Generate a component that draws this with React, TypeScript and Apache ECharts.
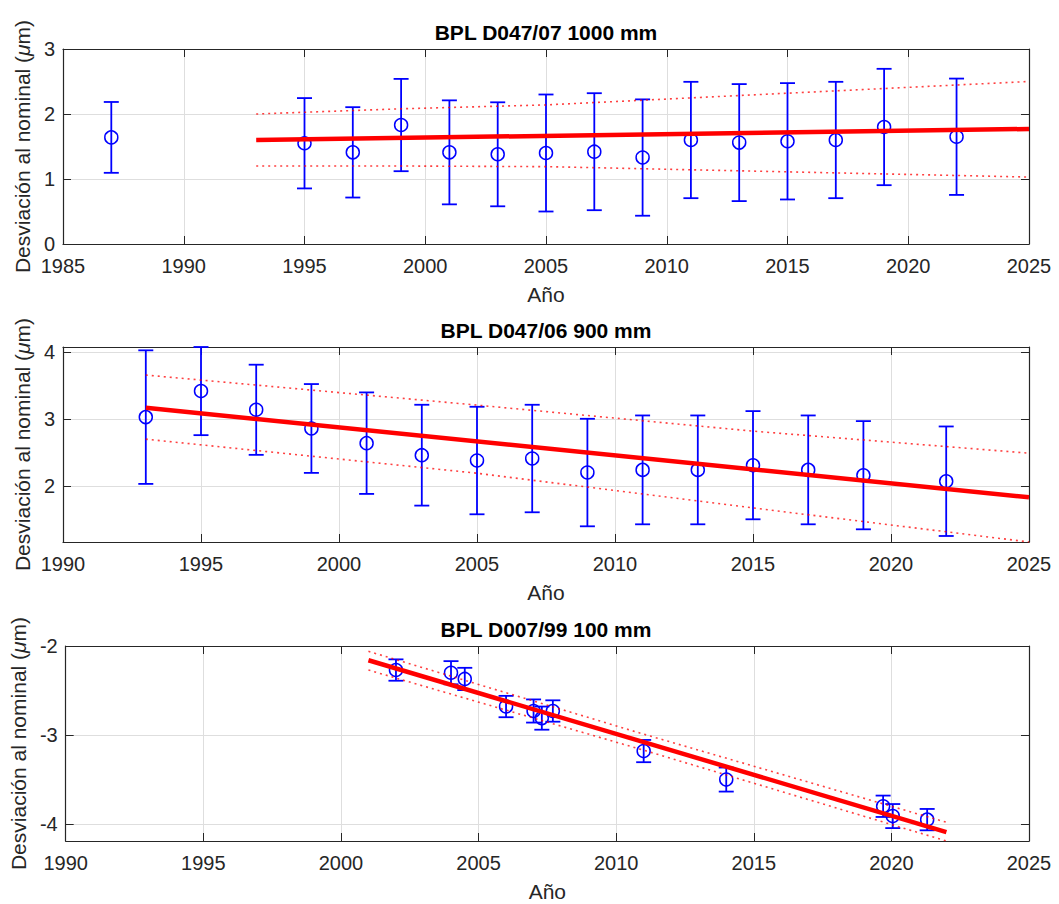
import React, { useEffect, useRef } from 'react';
import * as echarts from 'echarts';

// ---------- Panel 1: BPL D047/07 1000 mm ----------
const titles = ['BPL D047/07 1000 mm', 'BPL D047/06 900 mm', 'BPL D007/99 100 mm'];

const years1 = [1987, 1995, 1997, 1999, 2001, 2003, 2005, 2007, 2009, 2011, 2013, 2015, 2017, 2019, 2022];
const vals1 = [1.64, 1.55, 1.41, 1.83, 1.41, 1.38, 1.40, 1.42, 1.33, 1.60, 1.56, 1.58, 1.60, 1.80, 1.65];
const err1 = [0.545, 0.695, 0.695, 0.71, 0.8, 0.8, 0.9, 0.9, 0.895, 0.895, 0.9, 0.895, 0.895, 0.895, 0.895];
const fitX1 = [1993, 2025];
const fitY1 = [1.60, 1.77];
const bandX1 = [1993, 1999, 2005, 2015, 2025];
const upper1 = [2.0, 2.08, 2.14, 2.32, 2.5];
const lower1 = [1.2, 1.2, 1.19, 1.11, 1.03];

// ---------- Panel 2: BPL D047/06 900 mm ----------
const years2 = [1993, 1995, 1997, 1999, 2001, 2003, 2005, 2007, 2009, 2011, 2013, 2015, 2017, 2019, 2022];
const vals2 = [3.03, 3.42, 3.14, 2.86, 2.64, 2.46, 2.38, 2.41, 2.2, 2.24, 2.24, 2.31, 2.24, 2.16, 2.07];
const err2 = [1.0, 0.66, 0.675, 0.665, 0.76, 0.755, 0.805, 0.805, 0.805, 0.815, 0.815, 0.81, 0.815, 0.81, 0.82];
const fitX2 = [1993, 2025];
const fitY2 = [3.17, 1.83];
const bandX2 = [1993, 2005, 2015, 2025];
const upper2 = [3.66, 3.21, 2.82, 2.49];
const lower2 = [2.70, 2.19, 1.67, 1.16];

// ---------- Panel 3: BPL D007/99 100 mm ----------
const years3 = [2002, 2004, 2004.5, 2006, 2007, 2007.3, 2007.7, 2011, 2014, 2019.7, 2020.05, 2021.3];
const vals3 = [-2.27, -2.30, -2.37, -2.68, -2.73, -2.81, -2.73, -3.18, -3.50, -3.80, -3.91, -3.95];
const err3 = [0.12, 0.13, 0.125, 0.12, 0.13, 0.13, 0.12, 0.125, 0.135, 0.12, 0.135, 0.12];
const fitX3 = [2001, 2022];
const fitY3 = [-2.16, -4.09];
const bandX3 = [2001, 2011, 2022];
const upper3 = [-2.06, -2.99, -3.98];
const lower3 = [-2.27, -3.17, -4.19];

// axis ranges
const xMin = [1985, 1990, 1990];
const xMax = [2025, 2025, 2025];
const yMin = [0, 1.16, -4.19];
const yMax = [3, 4.08, -2];

const BLUE = '#0000ff';
const RED = '#ff0000';
const INK = '#262626';
const FONT = 'Liberation Sans';

const GRID_TOP = [49, 347, 646];
const GRID_H = 195;
const GRID_LEFT = 63;
const GRID_W = 966;

function zip(a: number[], b: number[]) {
  return a.map((v, i) => [v, b[i]]);
}

function errorSeries(x: number[], y: number[], e: number[], gi: number) {
  return {
    type: 'custom',
    xAxisIndex: gi * 2,
    yAxisIndex: gi * 2,
    z: 3,
    data: x.map((xx, i) => [xx, y[i], y[i] - e[i], y[i] + e[i]]),
    renderItem: (params: any, api: any) => {
      const x0 = api.value(0);
      const c = api.coord([x0, api.value(1)]);
      const t = api.coord([x0, api.value(3)]);
      const b = api.coord([x0, api.value(2)]);
      const cap = 7.5;
      const st = { stroke: BLUE, lineWidth: 1.8, fill: 'none' };
      return {
        type: 'group',
        children: [
          { type: 'line', shape: { x1: c[0], y1: t[1], x2: c[0], y2: b[1] }, style: st },
          { type: 'line', shape: { x1: c[0] - cap, y1: t[1], x2: c[0] + cap, y2: t[1] }, style: st },
          { type: 'line', shape: { x1: c[0] - cap, y1: b[1], x2: c[0] + cap, y2: b[1] }, style: st },
          { type: 'circle', shape: { cx: c[0], cy: c[1], r: 6.5 }, style: { stroke: BLUE, lineWidth: 1.5, fill: 'none' } },
        ],
      };
    },
  };
}

function lineSeries(x: number[], y: number[], gi: number, dotted: boolean) {
  return {
    type: 'line',
    xAxisIndex: gi * 2,
    yAxisIndex: gi * 2,
    data: zip(x, y),
    showSymbol: false,
    symbol: 'none',
    smooth: false,
    z: dotted ? 4 : 5,
    lineStyle: dotted
      ? { color: RED, width: 1.6, type: [2, 4], opacity: 0.75 }
      : { color: RED, width: 4.5 },
  };
}

export default function App() {
  const ref = useRef<HTMLDivElement>(null);

  useEffect(() => {
    if (!ref.current) return;
    const chart = echarts.init(ref.current, undefined, { renderer: 'svg' });

    const grids: any[] = [];
    const xAxes: any[] = [];
    const yAxes: any[] = [];
    const graphics: any[] = [];

    for (let gi = 0; gi < 3; gi++) {
      grids.push({ left: GRID_LEFT, top: GRID_TOP[gi], width: GRID_W, height: GRID_H, containLabel: false });
      const tickStyle = { show: true, inside: true, length: 8, lineStyle: { color: INK, width: 1 } };
      const lineStyle = { show: true, onZero: false, lineStyle: { color: INK, width: 1.2 } };
      // bottom x
      xAxes.push({
        type: 'value', gridIndex: gi, position: 'bottom', min: xMin[gi], max: xMax[gi], interval: 5,
        axisLine: lineStyle, axisTick: tickStyle,
        axisLabel: { color: INK, fontSize: 20, fontFamily: FONT, margin: 12, formatter: (v: number) => String(v) },
        splitLine: { show: true, lineStyle: { color: '#dedede', width: 1 } },
        name: 'Año', nameLocation: 'middle', nameGap: 40,
        nameTextStyle: { color: INK, fontSize: 21, fontFamily: FONT },
      });
      // top x (box)
      xAxes.push({
        type: 'value', gridIndex: gi, position: 'top', min: xMin[gi], max: xMax[gi], interval: 5,
        axisLine: lineStyle, axisTick: tickStyle, axisLabel: { show: false }, splitLine: { show: false },
      });
      // left y
      yAxes.push({
        type: 'value', gridIndex: gi, position: 'left', min: yMin[gi], max: yMax[gi],
        minInterval: 1, maxInterval: 1,
        axisLine: lineStyle, axisTick: tickStyle,
        axisLabel: {
          color: INK, fontSize: 20, fontFamily: FONT, margin: 8,
          showMinLabel: gi === 0, showMaxLabel: gi !== 1,
          formatter: (v: number) => (Math.abs(v - Math.round(v)) < 1e-9 ? String(Math.round(v)) : ''),
        },
        splitLine: { show: true, lineStyle: { color: '#dedede', width: 1 } },
        name: '{n|Desviación al nominal (}{i|μ}{n|m)}',
        nameLocation: 'middle', nameGap: 28, nameRotate: 90,
        nameTextStyle: {
          color: INK, fontSize: 21, fontFamily: FONT,
          rich: {
            n: { color: INK, fontSize: 21, fontFamily: FONT },
            i: { color: INK, fontSize: 21, fontFamily: FONT, fontStyle: 'italic' },
          },
        },
      });
      // right y (box)
      yAxes.push({
        type: 'value', gridIndex: gi, position: 'right', min: yMin[gi], max: yMax[gi],
        minInterval: 1, maxInterval: 1,
        axisLine: lineStyle,
        axisTick: tickStyle,
        axisLabel: { show: false }, splitLine: { show: false },
      });
      graphics.push({
        type: 'text', x: GRID_LEFT + GRID_W / 2, y: GRID_TOP[gi] - 17,
        style: {
          text: titles[gi], fill: '#000000', fontSize: 21, fontWeight: 'bold', fontFamily: FONT,
          textAlign: 'center', textVerticalAlign: 'middle',
        },
      });
    }

    const series: any[] = [
      errorSeries(years1, vals1, err1, 0),
      lineSeries(fitX1, fitY1, 0, false),
      lineSeries(bandX1, upper1, 0, true),
      lineSeries(bandX1, lower1, 0, true),
      errorSeries(years2, vals2, err2, 1),
      lineSeries(fitX2, fitY2, 1, false),
      lineSeries(bandX2, upper2, 1, true),
      lineSeries(bandX2, lower2, 1, true),
      errorSeries(years3, vals3, err3, 2),
      lineSeries(fitX3, fitY3, 2, false),
      lineSeries(bandX3, upper3, 2, true),
      lineSeries(bandX3, lower3, 2, true),
    ];

    chart.setOption({
      animation: false,
      backgroundColor: '#ffffff',
      textStyle: { fontFamily: FONT },
      grid: grids,
      xAxis: xAxes,
      yAxis: yAxes,
      series,
      graphic: graphics,
    });

    return () => chart.dispose();
  }, []);

  return (
    <div
      ref={ref}
      style={{ position: 'fixed', left: 0, top: 0, width: 1059, height: 904, background: '#fff' }}
    />
  );
}
